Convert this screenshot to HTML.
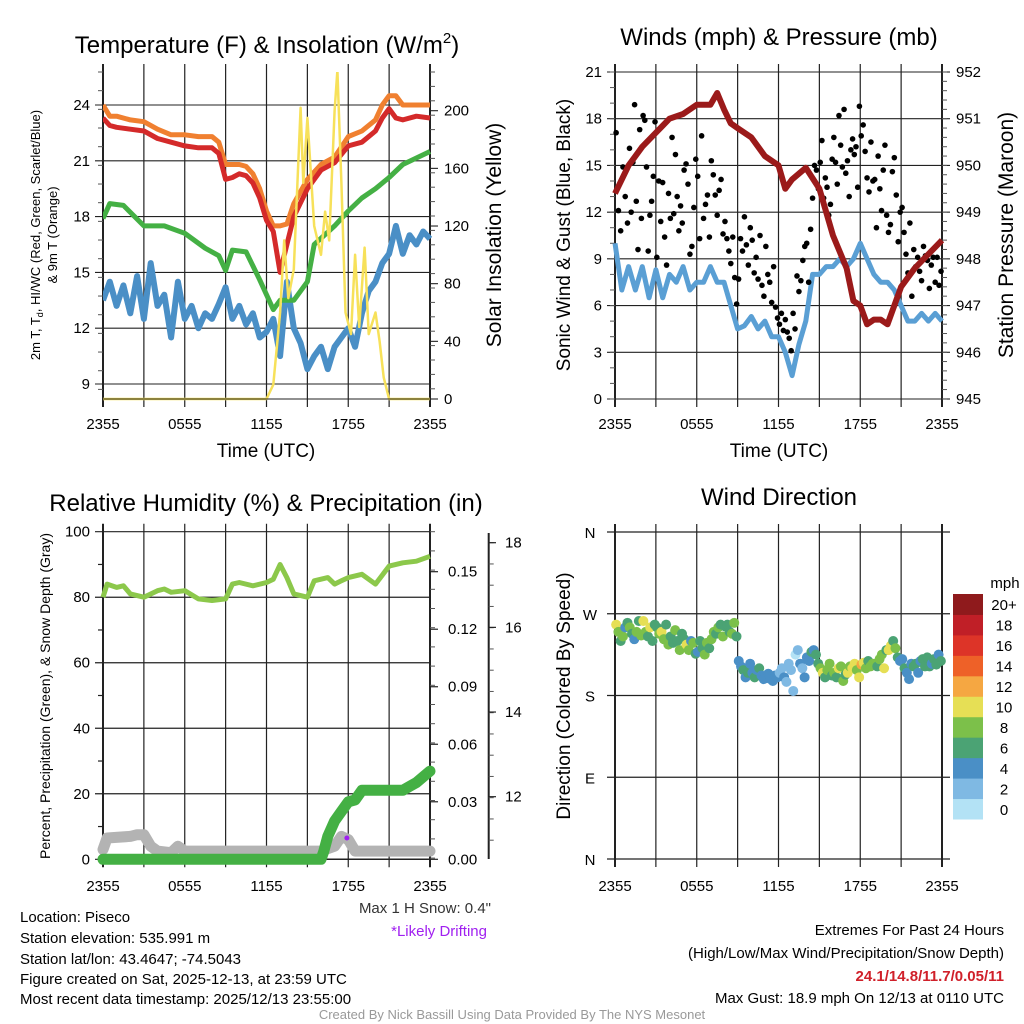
<!DOCTYPE html>
<html><head><meta charset="utf-8"><style>
html,body{margin:0;padding:0;background:#fff}
svg{display:block;font-family:"Liberation Sans",sans-serif}
</style></head><body>
<svg id="root" width="1024" height="1024" viewBox="0 0 1024 1024">
<rect width="1024" height="1024" fill="#fff"/>
<g id="p1"></g>
<g id="p2"></g>
<g id="p3"></g>
<g id="p4"></g>
<g font-size="15" fill="#000">
<text x="20" y="922">Location: Piseco</text>
<text x="20" y="943">Station elevation: 535.991 m</text>
<text x="20" y="964">Station lat/lon: 43.4647; -74.5043</text>
<text x="20" y="984">Figure created on Sat, 2025-12-13, at 23:59 UTC</text>
<text x="20" y="1004">Most recent data timestamp: 2025/12/13 23:55:00</text>
<text x="491" y="913" text-anchor="end" fill="#333">Max 1 H Snow: 0.4"</text>
<text x="487" y="936" text-anchor="end" fill="#a020f0">*Likely Drifting</text>
<text x="1004" y="935" text-anchor="end">Extremes For Past 24 Hours</text>
<text x="1004" y="958" text-anchor="end">(High/Low/Max Wind/Precipitation/Snow Depth)</text>
<text x="1004" y="981" text-anchor="end" fill="#d0202a" font-weight="bold">24.1/14.8/11.7/0.05/11</text>
<text x="1004" y="1003" text-anchor="end">Max Gust: 18.9 mph On 12/13 at 0110 UTC</text>
<text x="512" y="1019" text-anchor="middle" fill="#999" font-size="13">Created By Nick Bassill Using Data Provided By The NYS Mesonet</text>
</g>
</svg>
<script>
// ---- data ----
const timeTicks = ["2355","0555","1155","1755","2355"];
const tempHours = [0,0.5,1,2,3,4,5,6,7,8,8.5,9,9.5,10,10.5,11,11.5,12,12.5,13,13.5,14,15,16,17,18,19,20,20.5,21,21.5,22,23,24];
const tempRed   = [23.3,22.9,22.8,22.7,22.6,22.2,22.0,21.8,21.7,21.7,21.4,20.0,20.1,20.3,20.2,19.8,19.0,17.8,17.2,15.0,16.5,18.0,19.5,20.5,20.9,21.8,22.0,22.6,23.3,23.8,23.3,23.2,23.4,23.3];
const tempOrange= [24.0,23.4,23.4,23.2,23.1,22.7,22.4,22.4,22.3,22.3,22.0,20.8,20.8,20.8,20.7,20.3,19.5,18.3,17.5,17.5,17.6,18.7,20.0,20.8,21.2,22.3,22.6,23.2,24.0,24.5,24.5,24.0,24.0,24.0];
const greenHours= [0,0.5,1.5,3,4.5,6,7.5,8.5,9,9.5,10.5,11.5,12,12.5,13,14,15,15.5,17,18,19,20,21,22,24];
const tempGreen = [17.9,18.7,18.6,17.5,17.5,17.1,16.3,15.9,15.1,16.2,16.1,14.6,13.8,13.0,13.5,13.5,14.5,16.5,17.5,18.3,19.0,19.5,20.1,20.8,21.5];
const blueTemp  = [13.5,14.5,13.2,14.3,12.8,14.8,12.5,15.5,13.2,13.8,11.5,14.5,12.5,13.2,12.0,12.8,12.5,13.3,14.2,12.5,13.2,12.2,12.8,11.5,11.8,12.5,10.5,14.5,12.0,11.2,9.8,10.5,11.0,9.8,11.0,11.5,12.0,11.0,12.8,14.0,14.5,15.5,16.0,17.5,16.0,17.0,16.5,17.2,16.8];
const insolHours= [0,12,12.5,13,13.3,13.6,14,14.5,14.7,15,15.5,16,16.3,16.6,17,17.2,17.5,17.8,18.2,18.5,18.8,19.2,19.5,20,20.3,20.6,21,24];
const insolVals = [0,0,10,60,110,70,90,202,150,195,120,100,130,110,200,228,150,60,45,100,50,105,45,60,40,15,0,0];
const presHours = [0,1,2,3,4,5,6,7,7.5,8,8.5,9,10,11,12,12.5,13,14,15,16,17,17.5,18,18.5,19,19.5,20,21,22,23,24];
const presVals  = [949.4,950.0,950.4,950.7,951.0,951.1,951.3,951.3,951.55,951.2,950.9,950.8,950.6,950.2,950.0,949.5,949.7,949.95,949.5,948.5,947.8,947.1,947.0,946.6,946.7,946.7,946.6,947.4,947.8,948.1,948.4];
const windVals  = [10,7,8.5,7,8.5,6.5,8.3,6.5,8,7.5,8.5,7,7.5,7.5,8.5,7.5,7.5,6,4.5,4.7,5.3,4.5,5,4,4,3,1.5,3.5,5,8,8,8.5,8.5,9,8.5,9,10,9,8,7.5,7.5,7,6,5,5,5.5,5,5.5,5];
const gustByHour = [[17.1,12.1,10.8,14.9,13.0,11.3],[16.1,12.0,15.2,18.9,12.7,9.6,17.3,11.6],[18.2,17.9,14.9,9.5,11.8,12.7,14.3,17.8],[9.1,14.0,11.4,13.9,10.4,8.6,13.2],[11.6,16.8,11.9,15.7,13.0,10.8,12.4,11.3],[14.7,15.1,13.8,9.3,9.8,12.3,15.4],[14.3,10.3,16.9,11.6,12.5,13.1,10.4],[15.3,14.4,13.1,11.8,13.4,14.1,10.6],[11.4,10.3,9.5,8.7,10.4,7.8,6.1],[7.7,10.3,9.5,11.7,9.9,8.6,11.0],[10.2,8.1,9.1,7.7,10.5,7.3,6.6],[9.8,8.0,7.5,6.2,8.5,5.9,5.2],[4.8,5.5,4.4,5.1,4.3,3.9,3.1],[5.5,4.5,7.9,6.9,7.6,8.9,9.8],[10.0,7.5,10.9,12.9,15.0,14.7,13.5],[15.2,16.6,12.9,14.2,13.6,11.8,12.5,15.4],[16.8,15.2,13.8,18.2,16.3,14.9,18.6,14.5],[15.3,13.0,16.0,16.7,15.7,16.2,13.6,18.8],[16.9,17.6,15.9,14.2,13.3,16.5,14.0],[14.1,11.0,15.6,13.5,12.1,14.7,16.3,11.8],[10.7,11.2,14.6,15.5,13.1,10.1,12.0],[12.3,10.7,9.3,8.1,11.3,6.6,9.6],[8.5,9.1,8.2,7.6,9.8,9.2,8.9],[7.1,8.6,9.1,7.5,9.1,7.3,8.2]];
const rhHours = [0,0.3,1,1.5,2,3,4,4.5,5,6,7,8,9,9.5,10,11,12,12.5,13,13.5,14,15,15.5,16,16.5,17,17.5,18,19,20,21,22,23,24];
const rhVals  = [80,84,83,83.5,81,80,82,82.5,81.5,82,79.5,79,79.5,84,84.5,83.5,84.5,85.5,90,86,81,80,85,85.5,86,84,85,86,87,84,89.5,90.5,91,92.5];
const precipHours = [0,16,16.2,16.5,17,17.5,18,18.5,19,22,22.5,23,24];
const precipVals  = [0,0,0.004,0.012,0.02,0.025,0.03,0.031,0.036,0.036,0.038,0.040,0.046];
const snowHours = [0,0.3,2,2.5,3,3.5,4,5,5.5,6,16,17,17.5,18,18.5,24];
const snowVals  = [3,6.5,7,7.5,7.5,4,2.5,2,4,2.5,2.5,4,7,6,2.5,2.5];
const dirByHour = [[258,250,240,245,255,260],[255,248,242,250,262,246],[262,250,245,255,240,258],[255,248,250,242,258,236],[245,238,252,240,230,248],[242,236,230,240,238,226],[228,240,232,225,238,232],[242,250,248,255,258,245],[256,258,250,248,260,245],[218,212,208,200,205,215],[205,200,208,210,202,198],[200,204,198,196,202,200],[205,210,200,195,215,208],[185,225,230,215,210,200],[222,218,228,230,225,215],[210,205,200,208,215,202],[205,200,210,212,196,203],[205,212,210,215,208,200],[214,216,210,218,212,215],[215,212,220,225,210,230],[230,235,240,232,222,218],[220,210,205,198,215,212],[215,205,218,220,212,222],[212,215,220,214,225,218]];
const spdByHour = [[10,8,6,8,5,7],[8,7,4,8,6,8],[10,8,6,10,6,7],[6,9,10,8,6,8],[7,7,8,6,8,6],[7,10,9,4,8,6],[4,7,6,8,8,7],[8,8,6,8,7,8],[6,7,6,8,8,6],[4,4,6,4,6,4],[4,6,4,6,4,4],[4,4,4,4,4,4],[2,3,4,2,2,3],[2,1,2,4,2,4],[4,4,6,4,6,6],[8,10,6,8,8,6],[8,6,10,8,8,6],[10,8,10,10,8,10],[13,10,8,6,8,8],[8,6,8,8,10,6],[10,11,6,8,6,4],[4,6,4,4,4,6],[6,4,4,6,6,6],[6,4,6,6,4,6]];
const cbLabels = ["0","2","4","6","8","10","12","14","16","18","20+"];
const cbColors = ["#b3e2f5","#7fb9e3","#4a8fc6","#4ba374","#7cc04a","#e6df55","#f5a742","#ee6128","#dd3428","#c01f27","#8f1a1c"];

// ---- helpers ----
const NS="http://www.w3.org/2000/svg";
function mk(parent,tag,attrs,txt){const e=document.createElementNS(NS,tag);for(const k in attrs)e.setAttribute(k,attrs[k]);if(txt!==undefined)e.textContent=txt;parent.appendChild(e);return e;}
function scale(d0,d1,r0,r1){return v=>r0+(v-d0)*(r1-r0)/(d1-d0);}
function linePath(xs,ys,fx,fy){return xs.map((h,i)=>(i?"L":"M")+fx(h).toFixed(1)+","+fy(ys[i]).toFixed(1)).join("");}
function minor(grid,x,dir,y0,y1,step){for(let y=y0;y<=y1+0.1;y+=step){mk(grid,"line",{x1:x,x2:x+dir*5,y1:y,y2:y,"stroke-width":1,stroke:"#555"});}}

function frame(g,ox,oy,leftTicks,fyL,rightTicks,fyR,minL,minR){
  const x0=ox+103,x1=ox+430,y0=oy+72,y1=oy+399;
  const fx=scale(0,24,x0,x1);
  const grid=mk(g,"g",{stroke:"#222","stroke-width":"1.1"});
  
  
  for(let h=0;h<=24;h+=3){mk(grid,"line",{x1:fx(h),x2:fx(h),y1:y0-8,y2:y1+8,"stroke-width":(h===0||h===24)?2:1.2});}
  leftTicks.forEach(t=>{mk(grid,"line",{x1:x0-8,x2:x1+(rightTicks?0:8),y1:fyL(t.v),y2:fyL(t.v)});
    const tx=mk(g,"text",{x:x0-13,y:fyL(t.v)+5,"text-anchor":"end","font-size":"15"},t.l);
    
    });
  if(minL) minor(grid,x0,-1,y0,y1,minL);
  if(rightTicks){rightTicks.forEach(t=>{mk(grid,"line",{x1:x1,x2:x1+8,y1:fyR(t.v),y2:fyR(t.v)});
    const tx=mk(g,"text",{x:x1+14,y:fyR(t.v)+5,"font-size":"15"},t.l);
    
    });
    mk(grid,"line",{x1:x1,x2:x1,y1:y0,y2:y1,"stroke-width":2});
    if(minR) minor(grid,x1,1,y0,y1,minR);}
  timeTicks.forEach((l,i)=>{const tx=mk(g,"text",{x:fx(i*6),y:y1+30,"text-anchor":"middle","font-size":"15"},l);
    
    });
  return {fx,x0,x1,y0,y1};
}
function label(g,txt,x,y,size,rot,name){const t=mk(g,"text",{x:x,y:y,"text-anchor":"middle","font-size":size,transform:rot?`rotate(-90 ${x} ${y})`:""},txt);
  
  return t;}

// ---- Panel 1 ----
(function(){
  const g=document.getElementById("p1");
  const fyL=scale(24,9,105,384), fyR=scale(0,200,399,110.7);
  const f=frame(g,0,0,[24,21,18,15,12,9].map(v=>({v,l:String(v)})),fyL,[0,40,80,120,160,200].map(v=>({v,l:String(v)})),fyR,18.67,14.4);
  const fx=f.fx;
  const clip=mk(g,"clipPath",{id:"c1"});mk(clip,"rect",{x:f.x0,y:f.y0,width:f.x1-f.x0+4,height:f.y1-f.y0+3});
  const blueH=blueTemp.map((v,i)=>i*0.5);
  const s=[[blueH,blueTemp,fyL,"#4a8fc6",6,"blue-dewpoint-line"],[greenHours,tempGreen,fyL,"#44b044",5,"green-line"],[tempHours,tempOrange,fyL,"#f08030",5,"orange-9m-temp-line"],[tempHours,tempRed,fyL,"#d42a2a",5,"red-2m-temp-line"],[insolHours,insolVals,fyR,"#f7e15a",2.5,"yellow-insolation-line"]];
  s.forEach(([xs,ys,fy,c,w,n])=>{const p=mk(g,"path",{d:linePath(xs,ys,fx,fy),fill:"none",stroke:c,"stroke-width":w,"stroke-linejoin":"round","clip-path":"url(#c1)"});
    
    });
  mk(g,"line",{x1:f.x0,x2:f.x1,y1:f.y1,y2:f.y1,stroke:"#222"});
  const t=label(g,"",267,53,24,false,"chart-title");
  t.appendChild(document.createTextNode("Temperature (F) & Insolation (W/m"));
  mk(t,"tspan",{"font-size":"15",dy:"-10"},"2");
  mk(t,"tspan",{dy:"10"},")");
  const ya=label(g,"",40,235,13,true,"y-axis-title");
  ya.appendChild(document.createTextNode("2m T, T"));
  mk(ya,"tspan",{"font-size":"9",dy:"3"},"d");
  mk(ya,"tspan",{dy:"-3"},", HI/WC (Red, Green, Scarlet/Blue)");
  label(g,"& 9m T (Orange)",57,235,13,true,"y-axis-title-line2");
  label(g,"Solar Insolation (Yellow)",501,235,21,true,"right-axis-title");
  label(g,"Time (UTC)",266,457,19,false,"x-axis-title");
})();

// ---- Panel 2 ----
(function(){
  const g=document.getElementById("p2");
  const fyL=scale(0,21,399,72), fyR=scale(945,952,399,72);
  const f=frame(g,512,0,[0,3,6,9,12,15,18,21].map(v=>({v,l:String(v)})),fyL,[945,946,947,948,949,950,951,952].map(v=>({v,l:String(v)})),fyR,15.57,9.34);
  const fx=f.fx;
  const wh=windVals.map((v,i)=>i*0.5);
  const w=mk(g,"path",{d:linePath(wh,windVals,fx,fyL),fill:"none",stroke:"#5a9fd4","stroke-width":5,"stroke-linejoin":"round"});
  
  
  const gg=mk(g,"g",{fill:"#000"});
  
  
  gustByHour.forEach((arr,h)=>arr.forEach((v,i)=>{const c=mk(gg,"circle",{cx:fx(h+(i+0.5)/arr.length),cy:fyL(v),r:2.8});
    
    }));
  const p=mk(g,"path",{d:linePath(presHours,presVals,fx,fyR),fill:"none",stroke:"#9b1a1a","stroke-width":6,"stroke-linejoin":"round"});
  
  
  label(g,"Winds (mph) & Pressure (mb)",779,45,24,false,"chart-title");
  label(g,"Sonic Wind & Gust (Blue, Black)",570,235,19,true,"y-axis-title");
  label(g,"Station Pressure (Maroon)",1013,235,21,true,"right-axis-title");
  label(g,"Time (UTC)",779,457,19,false,"x-axis-title");
})();

// ---- Panel 3 ----
(function(){
  const g=document.getElementById("p3");
  const fyL=scale(0,100,859.3,531.7), fyR=scale(0,0.15,859.3,571.7), fyS=scale(12,18,796.7,542.7);
  const x0=103,x1=430,y0=531.7,y1=859.3,fx=scale(0,24,x0,x1);
  const grid=mk(g,"g",{stroke:"#222","stroke-width":"1.2"});
  for(let h=0;h<=24;h+=3){mk(grid,"line",{x1:fx(h),x2:fx(h),y1:y0-8,y2:y1+8,"stroke-width":(h===0||h===24)?2:1.2});}
  [0,20,40,60,80,100].forEach(v=>{mk(grid,"line",{x1:x0-8,x2:x1,y1:fyL(v),y2:fyL(v)});
    const t=mk(g,"text",{x:x0-13,y:fyL(v)+5,"text-anchor":"end","font-size":"15"},String(v));});
  [10,30,50,70,90].forEach(v=>mk(grid,"line",{x1:x0-5,x2:x0,y1:fyL(v),y2:fyL(v)}));
  mk(grid,"line",{x1:x1,x2:x1,y1:y0,y2:y1,"stroke-width":2});
  minor(grid,x1,1,y0,y1,19.2);
  ["0.00","0.03","0.06","0.09","0.12","0.15"].forEach(l=>{const v=parseFloat(l);mk(grid,"line",{x1:x1,x2:x1+8,y1:fyR(v),y2:fyR(v)});
    const t=mk(g,"text",{x:x1+18,y:fyR(v)+5,"font-size":"15"},l);});
  mk(grid,"line",{x1:488.7,x2:488.7,y1:533,y2:859,"stroke-width":2});
  minor(grid,488.7,1,542.7,859,21.25);
  [12,14,16,18].forEach(v=>{mk(grid,"line",{x1:488.7,x2:496,y1:fyS(v),y2:fyS(v)});
    const t=mk(g,"text",{x:505,y:fyS(v)+5,"font-size":"15"},String(v));});
  timeTicks.forEach((l,i)=>{const t=mk(g,"text",{x:fx(i*6),y:891,"text-anchor":"middle","font-size":"15"},l);});
  const sn=mk(g,"path",{d:linePath(snowHours,snowVals,fx,fyL),fill:"none",stroke:"#b3b3b3","stroke-width":11,"stroke-linejoin":"round","stroke-linecap":"round"});
  
  const pr=mk(g,"path",{d:linePath(precipHours,precipVals,fx,fyR),fill:"none",stroke:"#44b044","stroke-width":11,"stroke-linejoin":"round","stroke-linecap":"round"});
  
  const rh=mk(g,"path",{d:linePath(rhHours,rhVals,fx,fyL),fill:"none",stroke:"#8cc84b","stroke-width":5,"stroke-linejoin":"round"});
  
  const pd=mk(g,"circle",{cx:fx(17.9),cy:fyL(6.5),r:2.5,fill:"#a020f0"});
  
  mk(grid,"line",{x1:x0,x2:x1,y1:y1,y2:y1,"stroke-width":1.5});
  label(g,"Relative Humidity (%) & Precipitation (in)",266,511,24,false,"chart-title");
  label(g,"Percent, Precipitation (Green), & Snow Depth (Gray)",50,696,14,true,"y-axis-title");
})();

// ---- Panel 4 ----
(function(){
  const g=document.getElementById("p4");
  const x0=615,x1=942,y0=532,y1=859,fx=scale(0,24,x0,x1),fy=scale(0,360,y1,y0);
  const grid=mk(g,"g",{stroke:"#222","stroke-width":"1.2"});
  for(let h=0;h<=24;h+=3){mk(grid,"line",{x1:fx(h),x2:fx(h),y1:y0-8,y2:y1+8,"stroke-width":(h===0||h===24)?2:1.2});}
  [[0,"N"],[90,"E"],[180,"S"],[270,"W"],[360,"N"]].forEach(([v,l])=>{mk(grid,"line",{x1:x0-8,x2:x1+8,y1:fy(v),y2:fy(v)});
    const t=mk(g,"text",{x:590,y:fy(v)+6,"text-anchor":"middle","font-size":"15"},l);});
  timeTicks.forEach((l,i)=>{const t=mk(g,"text",{x:fx(i*6),y:891,"text-anchor":"middle","font-size":"15"},l);});
  const pts=mk(g,"g",{});
  
  dirByHour.forEach((arr,h)=>arr.forEach((d,i)=>{const sp=spdByHour[h][i];const b=Math.min(10,Math.floor(sp/2));
    const c=mk(pts,"circle",{cx:fx(h+(i+0.5)/arr.length),cy:fy(d),r:5,fill:cbColors[b]});
    }));
  const cb=mk(g,"g",{});
  
  const bh=(819-594)/cbLabels.length;
  cbLabels.forEach((l,i)=>{const y=819-(i+1)*bh;
    const r=mk(cb,"rect",{x:953,y:y,width:30,height:bh+0.5,fill:cbColors[i]});
    const t=mk(cb,"text",{x:1004,y:y+bh/2+6,"text-anchor":"middle","font-size":"15"},l);});
  label(g,"mph",1005,588,15,false,"colorbar-title");
  label(g,"Wind Direction",779,505,24,false,"chart-title");
  label(g,"Direction (Colored By Speed)",570,696,19,true,"y-axis-title");
})();
</script>
</body></html>
